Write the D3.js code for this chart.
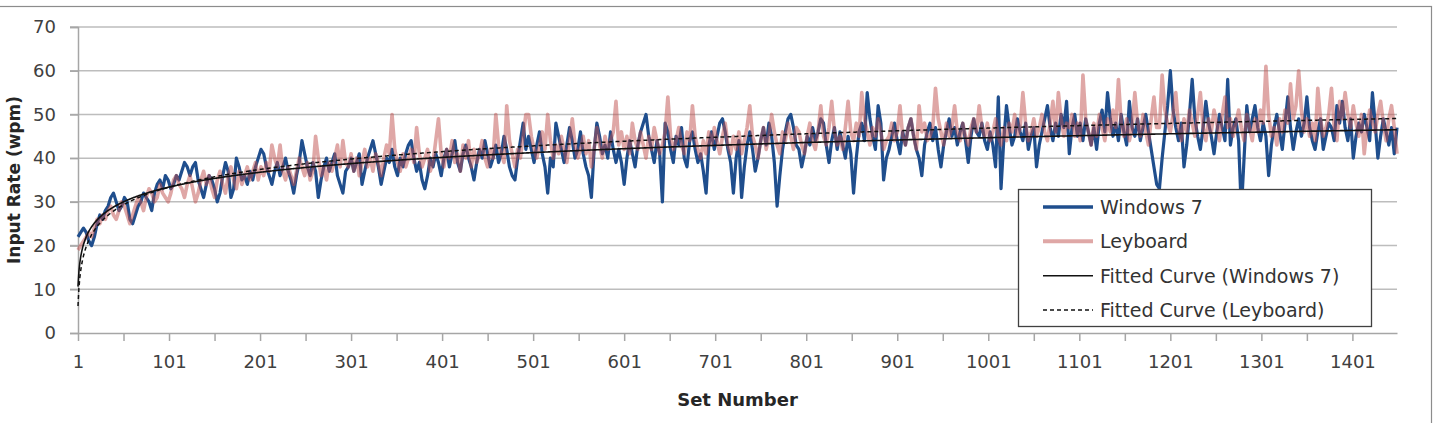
<!DOCTYPE html>
<html>
    <head>
        <title></title>
        <script src="https://d3js.org/d3.v7.min.js"></script>
        <style>
            body { margin: 0; background: #fff; }
            text { font-family: "DejaVu Sans", sans-serif; }
        </style>
    </head>

    <body>
        <div id="my_dataviz"></div>
    </body>

    <script>
        // sets are sampled every 3rd set, starting at set 1 (1, 4, 7 ... 1450)
        var firstSet = 1;
        var setStep = 3;

        // input rate (wpm), Windows 7 keyboard - one row per 99 sets
        var win7 = [
            22,23,24,23,21,20,22,25,27,26,28,29,31,32,30,28,29,31,30,26,25,27,29,30,32,31,30,28,32,34,35,33,36,
            35,33,34,36,35,37,39,38,36,38,39,35,33,31,34,36,35,33,30,32,36,39,37,31,33,40,38,35,36,34,37,35,38,
            40,42,41,38,36,34,37,39,36,38,40,37,35,32,36,39,44,41,38,36,39,37,31,35,38,40,37,39,41,36,34,32,37,
            38,40,37,39,41,34,37,40,42,44,41,38,34,37,40,39,42,38,36,40,38,41,43,44,40,37,39,35,33,36,40,38,41,
            39,36,40,42,38,41,44,39,37,41,43,40,38,35,39,42,40,44,41,38,40,43,39,41,45,42,38,36,35,40,44,48,42,
            45,42,39,43,46,41,38,32,40,38,48,45,42,39,43,47,44,40,42,46,41,38,36,31,42,48,45,41,43,40,46,42,39,
            42,39,34,40,44,41,38,43,46,48,50,45,42,39,44,41,30,48,46,42,39,45,43,47,40,38,44,46,42,39,41,37,32,
            43,46,42,45,48,49,46,42,39,32,40,44,31,38,43,46,42,37,40,44,47,43,48,45,39,29,36,42,46,49,50,47,43,
            42,38,41,45,43,47,44,46,49,48,43,39,44,47,42,46,43,40,45,41,32,40,46,48,44,55,49,45,42,52,48,35,40,
            42,45,48,44,41,46,43,47,49,45,42,40,36,43,46,48,44,47,42,38,43,46,49,45,47,43,46,48,44,39,45,49,46,
            45,48,44,42,46,43,38,54,33,44,52,47,43,45,49,46,44,48,42,45,47,38,43,46,49,52,47,44,48,45,50,47,53,
            41,47,50,45,48,44,49,46,43,47,42,48,51,46,55,49,45,48,44,50,46,43,53,47,45,49,44,47,50,46,42,38,34,
            33,40,46,52,60,51,47,44,48,38,43,50,58,49,45,42,47,53,48,45,41,46,50,47,44,58,43,47,49,44,28,40,52,
            46,49,52,47,44,48,45,36,43,47,50,46,42,48,54,47,42,46,49,45,48,54,47,44,42,46,49,42,45,48,47,44,52,
            48,53,47,44,49,40,45,48,46,50,47,44,55,48,40,45,49,46,43,47,41,47
        ];

        // input rate (wpm), Leyboard - one row per 99 sets
        var leyboard = [
            19,20,21,22,23,22,24,26,25,27,26,28,29,27,26,28,30,29,27,25,27,29,31,30,28,31,33,32,30,31,34,32,31,
            30,32,35,36,34,33,31,34,36,33,30,32,35,37,34,36,33,31,35,37,34,32,36,38,35,33,37,34,36,38,35,37,39,
            35,38,36,39,37,43,40,38,43,37,35,38,36,34,37,40,38,36,39,35,37,45,40,36,38,35,39,37,40,43,38,44,39,
            38,41,37,40,36,39,42,38,40,37,41,39,36,40,43,41,50,42,39,37,41,38,40,42,39,47,41,38,40,42,37,39,44,
            49,41,38,42,40,44,39,41,37,43,40,44,38,42,39,41,44,40,38,42,40,50,43,41,39,52,44,41,38,42,40,45,50,
            50,45,42,40,43,46,42,50,44,40,43,41,45,42,39,44,49,43,40,42,45,41,44,38,42,47,43,40,45,42,44,46,53,
            43,46,42,45,41,48,44,42,46,43,40,45,42,47,44,41,43,46,54,45,42,44,47,43,41,46,44,52,45,42,40,44,41,
            46,43,47,44,41,45,48,43,41,45,42,46,41,44,47,52,45,43,40,44,47,42,45,50,46,43,41,46,44,48,45,42,47,
            46,43,41,45,48,44,42,46,52,45,43,47,53,46,43,45,42,47,53,46,44,48,45,55,49,46,43,47,45,49,46,42,44,
            45,48,44,46,52,45,43,47,49,45,42,52,46,48,44,45,47,56,49,46,43,48,45,47,52,46,44,48,45,43,47,49,46,
            52,47,45,48,44,46,49,45,43,47,44,48,46,50,45,47,55,48,44,46,49,45,47,50,46,44,48,53,46,55,49,45,48,
            47,50,45,48,44,59,49,46,43,48,45,50,47,44,49,46,51,47,58,48,45,49,44,47,55,48,45,50,46,43,49,54,47,
            47,59,51,48,46,50,55,47,44,49,46,51,48,45,50,55,47,44,49,46,51,48,44,50,54,47,49,45,48,51,47,44,50,
            47,44,49,46,51,48,61,50,45,47,43,49,46,51,48,57,49,52,60,51,46,49,45,48,44,56,49,45,47,50,56,47,44,
            53,49,55,50,47,52,48,45,50,41,47,51,48,46,50,53,48,44,49,52,47,41
        ];

        var xTickLabels = [1, 101, 201, 301, 401, 501, 601, 701, 801, 901, 1001, 1101, 1201, 1301, 1401];
        var xMinorTicks = d3.range(1, 1451, 50);
        var yTicks = [0, 10, 20, 30, 40, 50, 60, 70];

        var seriesNames = ["Windows 7", "Leyboard", "Fitted Curve (Windows 7)", "Fitted Curve (Leyboard)"];

        var sets = win7.map(function(d, i) { return firstSet + i * setStep; });
        var lastSet = sets[sets.length - 1];

        var width = 1433, height = 423;
        var plotLeft = 78, plotRight = 1397, plotTop = 27, plotBottom = 333;

        var svg = d3.select("#my_dataviz")
        .append("svg")
        .attr("width", width)
        .attr("height", height);

        // outer chart frame
        svg.append("rect")
        .attr("x", -2).attr("y", 6.5)
        .attr("width", 1433.5).attr("height", 430)
        .attr("fill", "#fff")
        .attr("stroke", "#8c8c8c")
        .attr("stroke-width", 1.2);

        var x = d3.scaleLinear().domain([1, lastSet]).range([plotLeft, plotRight]);
        var y = d3.scaleLinear().domain([0, 70]).range([plotBottom, plotTop]);

        // gridlines
        svg.append("g")
        .selectAll("line")
        .data(yTicks.slice(1))
        .enter()
        .append("line")
        .attr("x1", plotLeft - 8).attr("x2", plotRight)
        .attr("y1", function(d) { return y(d); })
        .attr("y2", function(d) { return y(d); })
        .attr("stroke", "#bdbdbd")
        .attr("stroke-width", 1.5);

        // y axis
        var yAxis = svg.append("g")
        .attr("transform", "translate(" + plotLeft + ",0)")
        .call(d3.axisLeft(y).tickValues(yTicks).tickSize(8).tickPadding(14));
        yAxis.select(".domain").attr("stroke", "#a6a6a6").attr("stroke-width", 1.5);
        yAxis.selectAll(".tick line").attr("stroke", "#a6a6a6").attr("stroke-width", 1.5);
        yAxis.selectAll(".tick text").attr("font-size", 18).attr("fill", "#404040")
        .style("font-family", "DejaVu Sans");

        // x axis: tick marks every 50 sets, labels every 100
        var xAxis = svg.append("g")
        .attr("transform", "translate(0," + plotBottom + ")")
        .call(d3.axisBottom(x).tickValues(xMinorTicks).tickSize(8).tickSizeOuter(0)
            .tickFormat(function(d) { return xTickLabels.indexOf(d) >= 0 ? d : ""; }).tickPadding(14));
        xAxis.select(".domain").attr("stroke", "#a6a6a6").attr("stroke-width", 1.5);
        xAxis.selectAll(".tick line").attr("stroke", "#a6a6a6").attr("stroke-width", 1.5);
        xAxis.selectAll(".tick text").attr("font-size", 18).attr("fill", "#404040")
        .style("font-family", "DejaVu Sans");

        // axis titles
        svg.append("text")
        .attr("x", (plotLeft + plotRight) / 2).attr("y", 406)
        .attr("text-anchor", "middle")
        .attr("font-size", 18).attr("font-weight", "bold").attr("fill", "#262626")
        .text("Set Number");

        svg.append("text")
        .attr("transform", "translate(20,180) rotate(-90)")
        .attr("text-anchor", "middle")
        .attr("font-size", 17).attr("font-weight", "bold").attr("fill", "#262626")
        .text("Input Rate (wpm)");

        // logarithmic least-squares fit, y = a*ln(x) + b
        function logFit(values) {
            var lx = sets.map(Math.log);
            var mx = d3.mean(lx), my = d3.mean(values);
            var sxy = d3.sum(lx, function(v, i) { return (v - mx) * (values[i] - my); });
            var sxx = d3.sum(lx, function(v) { return (v - mx) * (v - mx); });
            var a = sxy / sxx;
            var b = my - a * mx;
            return d3.range(1, lastSet + 1).map(function(s) { return [s, a * Math.log(s) + b]; });
        }

        var line = d3.line()
        .x(function(d) { return x(d[0]); })
        .y(function(d) { return y(d[1]); });

        var winPts = win7.map(function(d, i) { return [sets[i], d]; });
        var leyPts = leyboard.map(function(d, i) { return [sets[i], d]; });

        svg.append("path")
        .datum(winPts)
        .attr("d", line)
        .attr("fill", "none")
        .attr("stroke", "#1f4e8d")
        .attr("stroke-width", 3.2)
        .attr("stroke-linejoin", "round");

        svg.append("path")
        .datum(leyPts)
        .attr("d", line)
        .attr("fill", "none")
        .attr("stroke", "#c0504d")
        .attr("stroke-opacity", 0.5)
        .attr("stroke-width", 3.6)
        .attr("stroke-linejoin", "round");

        svg.append("path")
        .datum(logFit(win7))
        .attr("d", line)
        .attr("fill", "none")
        .attr("stroke", "#111")
        .attr("stroke-width", 1.6);

        svg.append("path")
        .datum(logFit(leyboard))
        .attr("d", line)
        .attr("fill", "none")
        .attr("stroke", "#111")
        .attr("stroke-width", 1.5)
        .attr("stroke-dasharray", "4,3");

        // legend
        var legend = svg.append("g");
        legend.append("rect")
        .attr("x", 1018.5).attr("y", 189.5)
        .attr("width", 353).attr("height", 137)
        .attr("fill", "#fff")
        .attr("stroke", "#404040")
        .attr("stroke-width", 1.3);

        var legendStyles = [
            { stroke: "#1f4e8d", width: 3.5, opacity: 1, dash: null },
            { stroke: "#c0504d", width: 4, opacity: 0.5, dash: null },
            { stroke: "#111", width: 1.5, opacity: 1, dash: null },
            { stroke: "#111", width: 1.5, opacity: 1, dash: "4,3" }
        ];
        var legendRowY = d3.scalePoint().domain(seriesNames).range([207, 310]);

        var rows = legend.selectAll("g.row")
        .data(seriesNames)
        .enter()
        .append("g")
        .attr("class", "row")
        .attr("transform", function(d) { return "translate(0," + legendRowY(d) + ")"; });

        rows.append("line")
        .attr("x1", 1043).attr("x2", 1093)
        .attr("stroke", function(d, i) { return legendStyles[i].stroke; })
        .attr("stroke-width", function(d, i) { return legendStyles[i].width; })
        .attr("stroke-opacity", function(d, i) { return legendStyles[i].opacity; })
        .attr("stroke-dasharray", function(d, i) { return legendStyles[i].dash; });

        rows.append("text")
        .attr("x", 1100).attr("dy", "0.36em")
        .attr("font-size", 19).attr("fill", "#333")
        .text(function(d) { return d; });
    </script>
</html>
